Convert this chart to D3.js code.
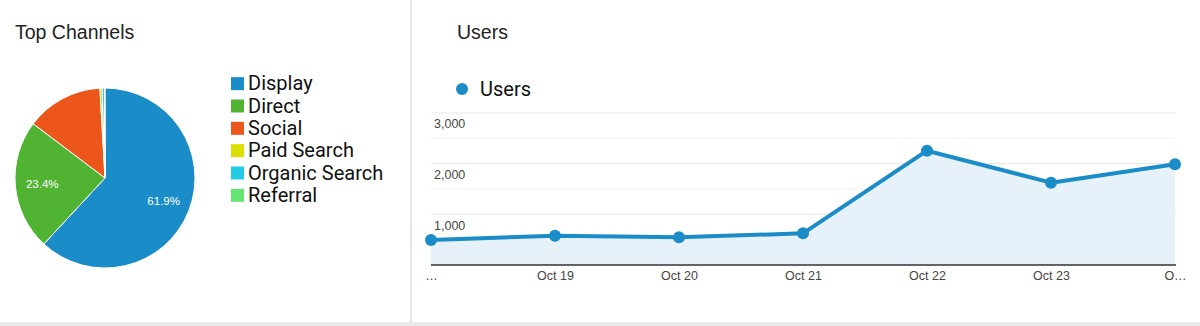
<!DOCTYPE html>
<html>
<head>
<meta charset="utf-8">
<script src="https://cdn.jsdelivr.net/npm/d3@7"></script>
<style>
  html, body { margin: 0; padding: 0; background: #fff; }
  svg { display: block; font-family: "Liberation Sans", Arial, sans-serif; }
  .legend-text { font-family: Roboto, Arial, sans-serif; }
</style>
</head>
<body>
<svg id="dash" width="1200" height="326"></svg>
<script>
// Channel share (percent)
const channels = ["Display", "Direct", "Social", "Paid Search", "Organic Search", "Referral"];
const channelShare = [61.9, 23.4, 13.8, 0.4, 0.4, 0.1];
const channelColors = ["#1a8dc8", "#50b432", "#ed561b", "#dddf00", "#24cbe5", "#64e572"];

// Daily users
const days = ["Oct 18", "Oct 19", "Oct 20", "Oct 21", "Oct 22", "Oct 23", "Oct 24"];
const users = [495, 578, 546, 625, 2256, 1625, 1987];
const dayTickLabels = ["…", "Oct 19", "Oct 20", "Oct 21", "Oct 22", "Oct 23", "O…"];
const userTicks = [1000, 2000, 3000];

const svg = d3.select("#dash");

// Panel frame
svg.append("rect").attr("x", 410).attr("y", 0).attr("width", 2).attr("height", 322).attr("fill", "#e4e4e4");
svg.append("rect").attr("x", 0).attr("y", 322).attr("width", 1200).attr("height", 4).attr("fill", "#e8e8e8");

// ---- Top Channels pie ----
svg.append("text").attr("x", 15).attr("y", 39).attr("font-size", 19.5).attr("fill", "#222").text("Top Channels");

const pieData = channels.map((c, i) => ({ name: c, value: channelShare[i], color: channelColors[i] }));
const R = 90;
const pieG = svg.append("g").attr("transform", "translate(105,178)");
const arcs = d3.pie().sort(null).value(d => d.value)(pieData);
const arc = d3.arc().innerRadius(0).outerRadius(R);
const labelArc = d3.arc().innerRadius(R * 0.7).outerRadius(R * 0.7);

pieG.selectAll("path").data(arcs).join("path")
  .attr("d", arc)
  .attr("fill", d => d.data.color)
  .attr("stroke", "#fff")
  .attr("stroke-width", 1);

pieG.selectAll("text").data(arcs.filter(d => d.data.value > 20)).join("text")
  .attr("transform", d => `translate(${labelArc.centroid(d)})`)
  .attr("text-anchor", "middle")
  .attr("dy", "0.35em")
  .attr("font-size", 11.5)
  .attr("fill", "#fff")
  .text(d => d.data.value.toFixed(1) + "%");

const legY = d3.scaleBand().domain(channels).range([72, 206]);
const leg = svg.append("g").selectAll("g").data(pieData).join("g")
  .attr("transform", d => `translate(231,${legY(d.name) + legY.bandwidth() / 2})`);
leg.append("rect").attr("x", 0).attr("y", -6).attr("width", 13).attr("height", 13).attr("fill", d => d.color);
leg.append("text").attr("class", "legend-text").attr("x", 17).attr("dy", "0.36em")
  .attr("font-size", 20).attr("fill", "#111").text(d => d.name);

// ---- Users line chart ----
svg.append("text").attr("x", 457).attr("y", 39).attr("font-size", 19.5).attr("fill", "#222").text("Users");
svg.append("circle").attr("cx", 462).attr("cy", 89).attr("r", 6).attr("fill", "#1a8dc8");
svg.append("text").attr("class", "legend-text").attr("x", 480).attr("y", 89).attr("dy", "0.36em")
  .attr("font-size", 20).attr("fill", "#111").text("Users");

const x = d3.scalePoint().domain(days).range([431, 1175]);
const y = d3.scaleLinear().domain([0, 3000]).range([265, 113]);
const left = 431, right = 1176;

// grid: faint half-steps, stronger whole thousands
const grid = svg.append("g");
grid.selectAll("line.minor").data(d3.range(500, 3000, 1000)).join("line")
  .attr("x1", left).attr("x2", right).attr("y1", d => y(d)).attr("y2", d => y(d))
  .attr("stroke", "#f3f3f3").attr("stroke-width", 1);
grid.selectAll("line.major").data(userTicks).join("line")
  .attr("x1", left).attr("x2", right).attr("y1", d => y(d)).attr("y2", d => y(d))
  .attr("stroke", "#e6e6e6").attr("stroke-width", 1);
grid.selectAll("text").data(userTicks).join("text")
  .attr("x", 434).attr("y", d => y(d) + 11).attr("dy", "0.35em")
  .attr("font-size", 12.5).attr("fill", "#444")
  .text(d => d3.format(",")(d));

const pts = days.map((d, i) => ({ day: d, v: users[i] }));
svg.append("path").datum(pts)
  .attr("d", d3.area().x(d => x(d.day)).y0(y(0)).y1(d => y(d.v)))
  .attr("fill", "#e7f1f9");

svg.append("line").attr("x1", left).attr("x2", right).attr("y1", y(0)).attr("y2", y(0))
  .attr("stroke", "#333").attr("stroke-width", 1.5);

svg.append("path").datum(pts)
  .attr("d", d3.line().x(d => x(d.day)).y(d => y(d.v)))
  .attr("fill", "none").attr("stroke", "#1a8dc8").attr("stroke-width", 4)
  .attr("stroke-linejoin", "round");

svg.append("g").selectAll("circle").data(pts).join("circle")
  .attr("cx", d => x(d.day)).attr("cy", d => y(d.v)).attr("r", 6)
  .attr("fill", "#1a8dc8");

const xAxis = d3.axisBottom(x).tickSize(0).tickPadding(6).tickFormat((d, i) => dayTickLabels[i]);
const xg = svg.append("g").attr("transform", `translate(0,${y(0)})`).call(xAxis);
xg.select(".domain").remove();
xg.selectAll("text").attr("font-size", 12.5).attr("fill", "#444")
  .attr("font-family", "'Liberation Sans', Arial, sans-serif");
</script>
</body>
</html>
